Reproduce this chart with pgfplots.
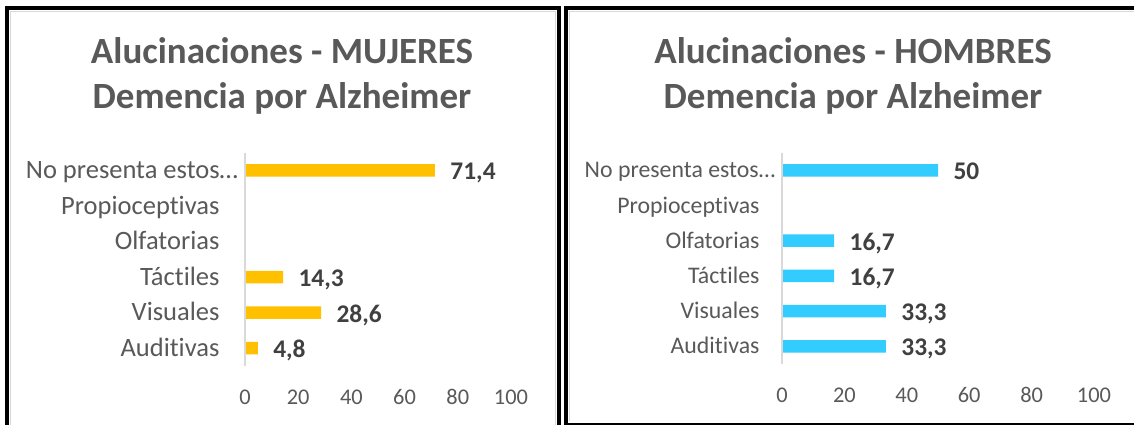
\documentclass[border=0pt]{standalone}
\usepackage{pgfplots}
\pgfplotsset{compat=1.18}
\usepackage{fontspec}
\setmainfont{Carlito}[Ligatures=NoCommon]
\definecolor{tgray}{HTML}{595959}
\definecolor{dgray}{HTML}{404040}
\definecolor{lgray}{HTML}{D9D9D9}
\definecolor{ybar}{HTML}{FFC000}
\definecolor{bbar}{HTML}{33CCFF}
\pgfplotsset{
  mybar/.style={
    scale only axis, clip=false,
    xbar, bar width=12.5pt,
    xmin=0, xmax=100, ymin=-0.5, ymax=5.5,
    xtick={0,20,40,60,80,100},
    ytick={0,1,2,3,4,5},
    axis line style={draw=none},
    tick style={draw=none}, major tick length=0pt,
    /pgf/number format/assume math mode=true,
    xticklabel style={font=\fontsize{22.4}{26}\selectfont, text=tgray, anchor=center, yshift=-31pt},
    point meta=explicit symbolic,
    nodes near coords,
    nodes near coords style={font=\fontsize{25.4}{30}\selectfont\bfseries, text=dgray, anchor=base west, xshift=12pt, yshift=-9.5pt},
  }
}
\begin{document}
\begin{tikzpicture}
\useasboundingbox (0pt,0pt) rectangle (1134pt,-425pt);
\fill[white] (0pt,0pt) rectangle (1134pt,-425pt);
% panel frames
\draw[lgray, line width=1pt] (10.5pt,-440pt) -- (10.5pt,-11.5pt) -- (555.5pt,-11.5pt) -- (555.5pt,-440pt);
\draw[lgray, line width=1pt] (569.5pt,-421pt) -- (569.5pt,-11.5pt) -- (1150pt,-11.5pt);
\draw[black, line width=4pt] (7pt,-440pt) -- (7pt,-8pt) -- (558.8pt,-8pt) -- (558.8pt,-440pt);
\draw[black, line width=4pt] (566pt,-424.5pt) rectangle (1160pt,-8pt);
% titles
\node[anchor=base, text=tgray, font=\fontsize{37}{44}\selectfont\bfseries] at (282pt,-63.5pt) {Alucinaciones - MUJERES};
\node[anchor=base, text=tgray, font=\fontsize{37}{44}\selectfont\bfseries] at (282pt,-108.5pt) {Demencia por Alzheimer};
\node[anchor=base, text=tgray, font=\fontsize{37}{44}\selectfont\bfseries] at (853pt,-63.5pt) {Alucinaciones - HOMBRES};
\node[anchor=base, text=tgray, font=\fontsize{37}{44}\selectfont\bfseries] at (853pt,-108.5pt) {Demencia por Alzheimer};
% left chart
\begin{axis}[mybar, width=266pt, height=213.3pt, at={(245pt,-366pt)}, anchor=south west,
  yticklabels={Auditivas, Visuales, Táctiles, Olfatorias, Propioceptivas, {No presenta estos…\kern-18.5pt}},
  yticklabel style={font=\fontsize{26.5}{30}\selectfont, text=tgray, anchor=base east, xshift=-22pt, yshift=-8pt}]
\addplot[fill=ybar, draw=none] coordinates {(4.8,0) [4{,}8] (28.6,1) [28{,}6] (14.3,2) [14{,}3] (71.4,5) [71{,}4]};
\draw[lgray, line width=1.5pt] (axis cs:0,-0.5) -- (axis cs:0,5.5);
\end{axis}
% right chart
\begin{axis}[mybar, width=312pt, height=211.3pt, at={(782pt,-364pt)}, anchor=south west,
  yticklabels={Auditivas, Visuales, Táctiles, Olfatorias, Propioceptivas, {No presenta estos…\kern-15.7pt}},
  yticklabel style={font=\fontsize{23.8}{28}\selectfont, text=tgray, anchor=base east, xshift=-19pt, yshift=-7.5pt}]
\addplot[fill=bbar, draw=none] coordinates {(33.3,0) [33{,}3] (33.3,1) [33{,}3] (16.7,2) [16{,}7] (16.7,3) [16{,}7] (50,5) [50]};
\draw[lgray, line width=1.5pt] (axis cs:0,-0.5) -- (axis cs:0,5.5);
\end{axis}
\end{tikzpicture}
\end{document}
